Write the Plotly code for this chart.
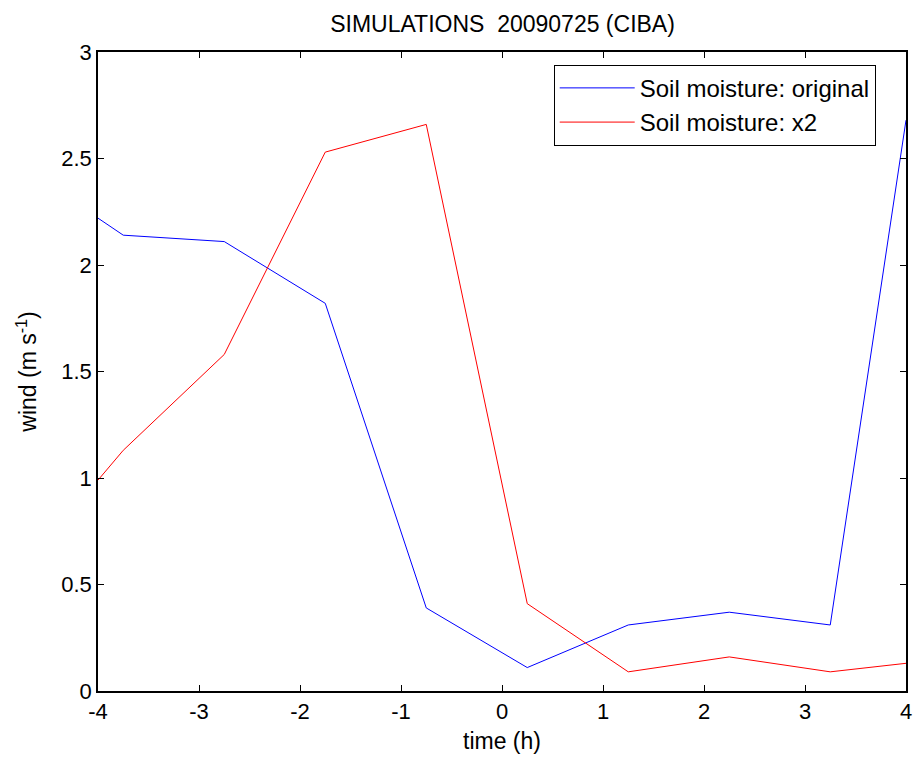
import plotly.graph_objects as go

time_h = [-4, -3.75, -2.75, -1.75, -0.75, 0.25, 1.25, 2.25, 3.25, 4]
wind_original = [2.22, 2.14, 2.11, 1.82, 0.39, 0.11, 0.31, 0.37, 0.31, 2.68]
wind_x2 = [0.99, 1.13, 1.58, 2.53, 2.66, 0.41, 0.09, 0.16, 0.09, 0.13]

x_ticks = [-4, -3, -2, -1, 0, 1, 2, 3, 4]
y_ticks = [0, 0.5, 1, 1.5, 2, 2.5, 3]
y_ticklabels = ["0", "0.5", "1", "1.5", "2", "2.5", "3"]

font_family = "Liberation Sans, Arial, sans-serif"
fs = 22

fig = go.Figure()
fig.add_trace(go.Scatter(x=time_h, y=wind_original, mode="lines",
                         line=dict(color="#0000ff", width=1),
                         name="Soil moisture: original"))
fig.add_trace(go.Scatter(x=time_h, y=wind_x2, mode="lines",
                         line=dict(color="#ff0000", width=1),
                         name="Soil moisture: x2"))

axis_common = dict(showline=True, linecolor="black", linewidth=1.5, mirror="allticks",
                   ticks="inside", ticklen=6, tickcolor="black", showgrid=False,
                   zeroline=False, tickfont=dict(size=fs, color="black", family=font_family))

fig.update_layout(
    width=917, height=757,
    margin=dict(l=98, r=5, t=52, b=66),
    paper_bgcolor="white", plot_bgcolor="white",
    font=dict(family=font_family, size=fs, color="black"),
    title=dict(text="SIMULATIONS  20090725 (CIBA)", x=0.548, xanchor="center",
               y=1 - 24 / 757, yanchor="middle", font=dict(size=23, color="black")),
    xaxis=dict(range=[-4, 4], tickvals=x_ticks, ticktext=[str(v) for v in x_ticks],
               title=dict(text="time (h)", font=dict(size=23), standoff=10), **axis_common),
    yaxis=dict(range=[0, 3], tickvals=y_ticks, ticktext=y_ticklabels,
               title=dict(text="wind (m s<sup>-1</sup>)", font=dict(size=23), standoff=18),
               **axis_common),
    legend=dict(x=0.564, y=0.98, xanchor="left", yanchor="top",
                bgcolor="white", bordercolor="black", borderwidth=1,
                itemwidth=75,
                font=dict(size=24, color="black"), tracegroupgap=0),
    showlegend=True,
)

fig.write_html("out.html")
